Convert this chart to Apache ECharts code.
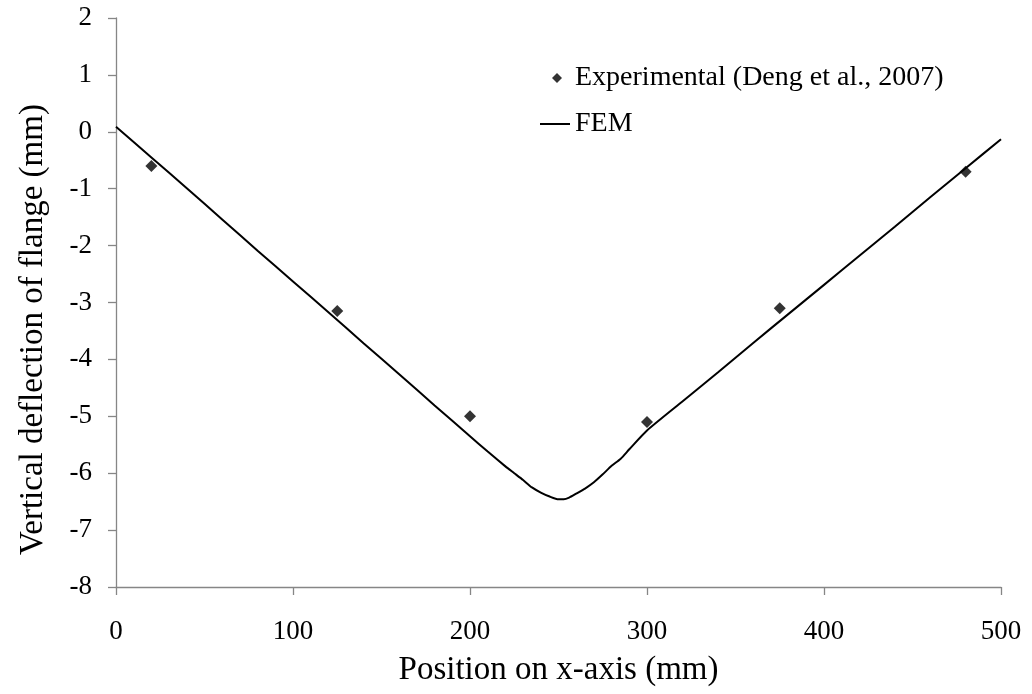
<!DOCTYPE html>
<html>
<head>
<meta charset="utf-8">
<script src="https://cdn.jsdelivr.net/npm/echarts@6/dist/echarts.min.js"></script>
<style>
html,body{margin:0;padding:0;background:#fff;}
#chart{width:1032px;height:694px;}
</style>
</head>
<body>
<div id="chart"></div>
<script>
// Experimental data (Deng et al., 2007)
const expX = [20, 125, 200, 300, 375, 480];
const expY = [-0.6, -3.15, -5.0, -5.1, -3.1, -0.7];

// FEM curve
const femX = [0, 20, 40, 60, 80, 100, 120, 140, 160, 180, 200, 210, 220, 225, 230, 235, 240, 245, 250, 253, 256, 260, 265, 270, 275, 280, 285, 290, 300, 320, 340, 360, 380, 400, 420, 440, 460, 480, 500];
const femY = [0.09, -0.45, -0.99, -1.54, -2.09, -2.63, -3.17, -3.72, -4.26, -4.81, -5.35, -5.62, -5.88, -6.0, -6.12, -6.25, -6.34, -6.41, -6.46, -6.46, -6.43, -6.36, -6.27, -6.16, -6.02, -5.87, -5.75, -5.58, -5.25, -4.74, -4.23, -3.71, -3.20, -2.69, -2.18, -1.67, -1.15, -0.64, -0.13];

const xTicks = [0, 100, 200, 300, 400, 500];
const yTicks = [-8, -7, -6, -5, -4, -3, -2, -1, 0, 1, 2];

const expName = 'Experimental (Deng et al., 2007)';
const femName = 'FEM';

const FONT = '"Liberation Serif", "Times New Roman", serif';
const axisColor = '#868686';

const chart = echarts.init(document.getElementById('chart'));
chart.setOption({
  backgroundColor: '#fff',
  animation: false,
  textStyle: {fontFamily: FONT, color: '#000'},
  grid: {left: 116, top: 18, right: 31, bottom: 107, containLabel: false},
  legend: [
    {
      data: [{name: expName, icon: 'diamond'}],
      left: 552, top: 63, padding: 0,
      itemWidth: 10, itemHeight: 10,
      textStyle: {fontFamily: FONT, fontSize: 28, lineHeight: 30, color: '#000', padding: [0, 0, 0, 8]}
    },
    {
      data: [{name: femName, icon: 'rect'}],
      left: 540, top: 109, padding: 0,
      itemWidth: 30, itemHeight: 2,
      textStyle: {fontFamily: FONT, fontSize: 28, lineHeight: 30, color: '#000'}
    }
  ],
  xAxis: {
    type: 'value', min: 0, max: 500, interval: 100,
    name: 'Position on x-axis (mm)', nameLocation: 'middle', nameGap: 67,
    nameTextStyle: {fontFamily: FONT, fontSize: 33, color: '#000'},
    axisLine: {show: true, onZero: false, lineStyle: {color: axisColor, width: 1.3}},
    axisTick: {show: true, inside: false, length: 8, lineStyle: {color: axisColor, width: 1.3}},
    axisLabel: {fontFamily: FONT, fontSize: 27, color: '#000', margin: 31},
    splitLine: {show: false}
  },
  yAxis: {
    type: 'value', min: -8, max: 2, interval: 1,
    name: 'Vertical deflection of flange (mm)', nameLocation: 'middle', nameGap: 66,
    nameTextStyle: {fontFamily: FONT, fontSize: 33, color: '#000', padding: [0, 54, 0, 0]},
    axisLine: {show: true, onZero: false, lineStyle: {color: axisColor, width: 1.3}},
    axisTick: {show: true, inside: false, length: 8, lineStyle: {color: axisColor, width: 1.3}},
    axisLabel: {fontFamily: FONT, fontSize: 27, color: '#000', margin: 24},
    splitLine: {show: false}
  },
  series: [
    {
      name: femName, type: 'line',
      data: femX.map((x, i) => [x, femY[i]]),
      showSymbol: false, symbol: 'none', smooth: 0.2,
      lineStyle: {color: '#000', width: 2},
      itemStyle: {color: '#000'},
      z: 2
    },
    {
      name: expName, type: 'scatter',
      data: expX.map((x, i) => [x, expY[i]]),
      symbol: 'diamond', symbolSize: 12,
      itemStyle: {color: '#000'},
      z: 3
    }
  ]
});
</script>
</body>
</html>
